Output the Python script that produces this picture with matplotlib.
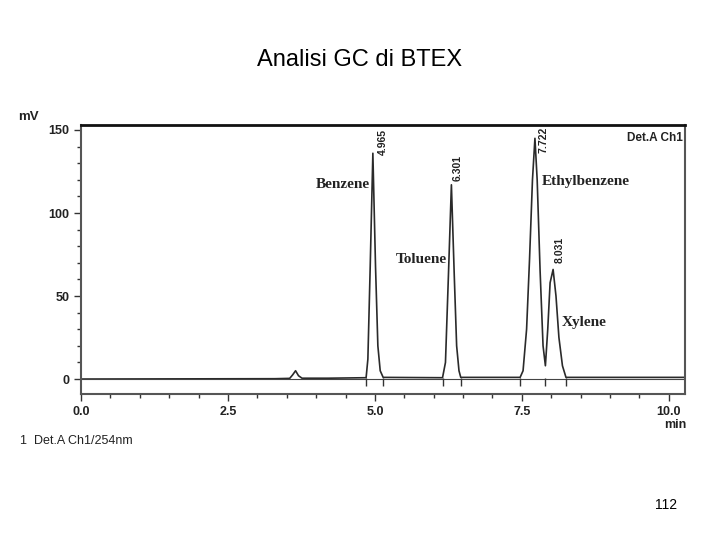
import matplotlib

matplotlib.use('Agg')

import matplotlib.pyplot as plt
from matplotlib.ticker import MultipleLocator

# trace (min, mV)
time = [0.0, 3.3, 3.55, 3.6, 3.65, 3.7, 3.76, 4.2,
        4.85, 4.88, 4.92, 4.965, 5.01, 5.05, 5.09, 5.14,
        6.15, 6.20, 6.25, 6.301, 6.35, 6.39, 6.43, 6.46,
        7.47, 7.52, 7.58, 7.63, 7.68, 7.722, 7.76, 7.81, 7.86, 7.90,
        7.94, 7.98, 8.031, 8.08, 8.13, 8.19, 8.25, 10.25]
signal = [0.0, 0.2, 0.4, 2.5, 5.0, 2.0, 0.5, 0.5,
          0.8, 12, 68, 136, 68, 20, 5, 1.0,
          0.8, 10, 62, 117, 62, 20, 5, 1.0,
          1.0, 5, 30, 72, 120, 145, 120, 65, 20, 8,
          30, 58, 66, 50, 25, 8, 1.0, 1.0]

peak_labels = ["4.965", "6.301", "7.722", "8.031"]
label_pos = [(5.14, 135), (6.41, 119), (7.86, 136), (8.15, 70)]

names = ["Benzene", "Toluene", "Ethylbenzene", "Xylene"]
name_pos = [(4.0, 117), (5.36, 72), (7.83, 119), (8.17, 34)]

marks = [4.85, 5.14, 6.15, 6.46, 7.47, 7.90, 8.25]

fig = plt.figure(figsize=(7.2, 5.4), dpi=100)
ax = fig.add_axes([0.1125, 0.2704, 0.8385, 0.4981])

ax.plot(time, signal, color="#2a2a2a", lw=1.2)
ax.axhline(0, color="#444444", lw=0.8)
ax.plot(marks, [-1.5] * len(marks), ls="none", marker="|", ms=6, color="#333333")

ax.set_xlim(0, 10.27)
ax.set_ylim(-9, 153)
ax.xaxis.set_minor_locator(MultipleLocator(0.5))
ax.yaxis.set_major_locator(MultipleLocator(50))
ax.yaxis.set_minor_locator(MultipleLocator(10))
ax.set_xticks([0, 2.5, 5, 7.5, 10])
ax.set_xticklabels(["0.0", "2.5", "5.0", "7.5", "10.0"])
ax.tick_params(which="both", direction="out", labelsize=9, colors="#333333")
ax.tick_params(which="major", length=5, width=1)
ax.tick_params(which="minor", length=3, width=1)
for lbl in ax.get_xticklabels() + ax.get_yticklabels():
    lbl.set_fontfamily("Liberation Sans")
    lbl.set_fontweight("bold")
    lbl.set_color("#222222")

ax.spines["top"].set_linewidth(2)
ax.spines["top"].set_color("#111111")
for s in ["left", "bottom", "right"]:
    ax.spines[s].set_linewidth(1.5)
    ax.spines[s].set_color("#555555")

for (x, y), lab in zip(label_pos, peak_labels):
    ax.text(x, y, lab, rotation=90, ha="center", va="bottom", fontsize=7.5,
            fontweight="bold", family="Liberation Sans", color="#222222")

for (x, y), n in zip(name_pos, names):
    ax.text(x, y, n, ha="left", va="center", fontsize=11, fontweight="bold",
            family="Liberation Serif", color="#222222")

ax.text(0.997, 0.975, "Det.A Ch1", transform=ax.transAxes, ha="right", va="top",
        fontsize=8.5, fontweight="bold", family="Liberation Sans", color="#222222")

fig.text(18 / 720, 1 - 117 / 540, "mV", ha="left", va="center", fontsize=9.5,
         fontweight="bold", family="Liberation Sans", color="#222222")
fig.text(686 / 720, 1 - 425 / 540, "min", ha="right", va="center", fontsize=9,
         fontweight="bold", family="Liberation Sans", color="#222222")
fig.text(20 / 720, 1 - 441 / 540, "1  Det.A Ch1/254nm", ha="left", va="center",
         fontsize=9, family="Liberation Sans", color="#222222")

fig.text(0.5, 1 - 60 / 540, "Analisi GC di BTEX", ha="center", va="center",
         fontsize=17, family="Liberation Sans")
fig.text(677 / 720, 1 - 505 / 540, "112", ha="right", va="center",
         fontsize=10, family="Liberation Sans")

fig.savefig("out.png", dpi=100)
